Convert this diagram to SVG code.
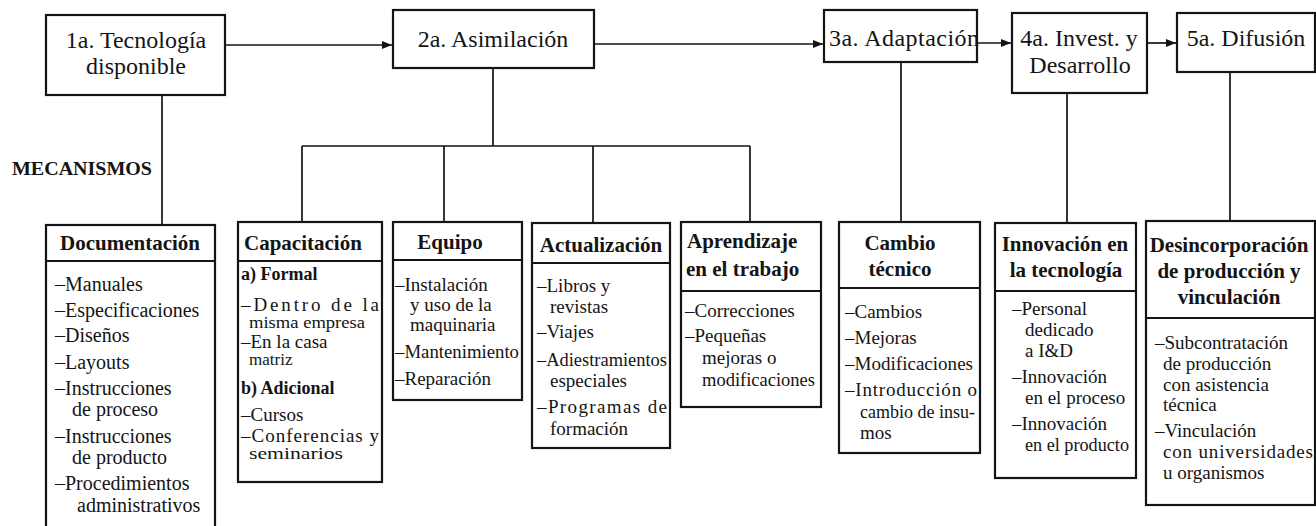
<svg xmlns="http://www.w3.org/2000/svg" width="1316" height="526" viewBox="0 0 1316 526">
<style>
.box{fill:#fff;stroke:#141414;stroke-width:2.2}
.ln{stroke:#141414;stroke-width:1.7;fill:none}
.hl{stroke:#141414;stroke-width:2}
text{font-family:"Liberation Serif","Times New Roman",serif;fill:#141414}
.top{font-size:24px;text-anchor:middle}
.h{font-size:21px;font-weight:bold}
.c{text-anchor:middle}
.i{font-size:19px}
.d{font-size:20px}
.s{font-size:17px}
.sb{font-size:18px;font-weight:bold}
</style>
<defs>
<marker id="ah" markerWidth="10" markerHeight="8" refX="10" refY="4" orient="auto" markerUnits="userSpaceOnUse">
<path d="M0,0 L10,4 L0,8 z" fill="#141414"/>
</marker>
</defs>
<rect width="1316" height="526" fill="#fff"/>

<g id="connectors">
<path class="ln" d="M226,45 H392" marker-end="url(#ah)"/>
<path class="ln" d="M595,44 H823" marker-end="url(#ah)"/>
<path class="ln" d="M978,43 H1011" marker-end="url(#ah)"/>
<path class="ln" d="M1148,43 H1176" marker-end="url(#ah)"/>
<path class="ln" d="M162,95 V225"/>
<path class="ln" d="M493,68 V146 M302,146 H750 M302,146 V222 M444,146 V222 M593,146 V223 M750,146 V221"/>
<path class="ln" d="M901,62 V222"/>
<path class="ln" d="M1067,93 V223"/>
<path class="ln" d="M1230,72 V221"/>
</g>

<g id="n1">
<rect class="box" x="46" y="15" width="179" height="80"/>
<text class="top" x="136" y="48">1a. Tecnología</text>
<text class="top" x="136" y="74">disponible</text>
</g>
<g id="n2">
<rect class="box" x="393" y="10" width="201" height="58"/>
<text class="top" x="493" y="47">2a. Asimilación</text>
</g>
<g id="n3">
<rect class="box" x="824" y="10" width="153" height="52"/>
<text class="top" x="829" y="46" style="text-anchor:start" textLength="150" lengthAdjust="spacing">3a. Adaptación</text>
</g>
<g id="n4">
<rect class="box" x="1012" y="13" width="135" height="80"/>
<text class="top" x="1079" y="46">4a. Invest. y</text>
<text class="top" x="1080" y="73">Desarrollo</text>
</g>
<g id="n5">
<rect class="box" x="1177" y="13" width="138" height="59"/>
<text class="top" x="1246" y="46">5a. Difusión</text>
</g>

<g id="mecanismos">
<text class="h" x="12" y="175" style="font-size:18px" textLength="140" lengthAdjust="spacingAndGlyphs">MECANISMOS</text>
</g>

<g id="documentacion">
<rect class="box" x="46" y="225" width="169" height="330"/>
<line class="hl" x1="46" y1="261" x2="215" y2="261"/>
<text class="h c" x="130" y="250">Documentación</text>
<text class="d" x="55" y="291">–Manuales</text>
<text class="d" x="55" y="317">–Especificaciones</text>
<text class="d" x="55" y="342">–Diseños</text>
<text class="d" x="55" y="369">–Layouts</text>
<text class="d" x="55" y="395">–Instrucciones</text>
<text class="d" x="72" y="416">de proceso</text>
<text class="d" x="55" y="443">–Instrucciones</text>
<text class="d" x="72" y="464">de producto</text>
<text class="d" x="55" y="490">–Procedimientos</text>
<text class="d" x="77" y="512">administrativos</text>
</g>

<g id="capacitacion">
<rect class="box" x="238" y="222" width="144" height="260"/>
<line class="hl" x1="238" y1="261" x2="382" y2="261"/>
<text class="h" x="244" y="250">Capacitación</text>
<text class="sb" x="241" y="280">a) Formal</text>
<text class="i" x="241" y="311" textLength="138" lengthAdjust="spacing">–Dentro de la</text>
<text class="s" x="249" y="328" textLength="116" lengthAdjust="spacingAndGlyphs">misma empresa</text>
<text class="i" x="241" y="348">–En la casa</text>
<text class="s" x="249" y="365">matriz</text>
<text class="sb" x="241" y="394">b) Adicional</text>
<text class="i" x="241" y="421">–Cursos</text>
<text class="i" x="241" y="442" textLength="138" lengthAdjust="spacing">–Conferencias y</text>
<text class="s" x="249" y="459" textLength="94" lengthAdjust="spacingAndGlyphs">seminarios</text>
</g>

<g id="equipo">
<rect class="box" x="393" y="222" width="129" height="178"/>
<line class="hl" x1="393" y1="260" x2="522" y2="260"/>
<text class="h c" x="450" y="249">Equipo</text>
<text class="i" x="395" y="291">–Instalación</text>
<text class="i" x="410" y="311">y uso de la</text>
<text class="i" x="410" y="331">maquinaria</text>
<text class="i" x="395" y="358" textLength="124" lengthAdjust="spacingAndGlyphs">–Mantenimiento</text>
<text class="i" x="395" y="385">–Reparación</text>
</g>

<g id="actualizacion">
<rect class="box" x="532" y="223" width="138" height="225"/>
<line class="hl" x1="532" y1="263" x2="670" y2="263"/>
<text class="h c" x="601" y="252">Actualización</text>
<text class="i" x="537" y="292">–Libros y</text>
<text class="i" x="550" y="313">revistas</text>
<text class="i" x="537" y="338">–Viajes</text>
<text class="i" x="537" y="366" textLength="130" lengthAdjust="spacingAndGlyphs">–Adiestramientos</text>
<text class="i" x="550" y="387">especiales</text>
<text class="i" x="537" y="413" textLength="130" lengthAdjust="spacing">–Programas de</text>
<text class="i" x="550" y="435">formación</text>
</g>

<g id="aprendizaje">
<rect class="box" x="681" y="222" width="140" height="185"/>
<line class="hl" x1="681" y1="291" x2="821" y2="291"/>
<text class="h" x="687" y="248">Aprendizaje</text>
<text class="h" x="686" y="276">en el trabajo</text>
<text class="i" x="685" y="317">–Correcciones</text>
<text class="i" x="685" y="342">–Pequeñas</text>
<text class="i" x="702" y="364">mejoras o</text>
<text class="i" x="702" y="386" textLength="113" lengthAdjust="spacingAndGlyphs">modificaciones</text>
</g>

<g id="cambio">
<rect class="box" x="839" y="222" width="141" height="231"/>
<line class="hl" x1="839" y1="288" x2="980" y2="288"/>
<text class="h c" x="900" y="250">Cambio</text>
<text class="h c" x="900" y="276">técnico</text>
<text class="i" x="845" y="318">–Cambios</text>
<text class="i" x="845" y="344">–Mejoras</text>
<text class="i" x="845" y="370" textLength="128" lengthAdjust="spacingAndGlyphs">–Modificaciones</text>
<text class="i" x="845" y="396" textLength="132" lengthAdjust="spacing">–Introducción o</text>
<text class="i" x="860" y="418" textLength="115" lengthAdjust="spacingAndGlyphs">cambio de insu-</text>
<text class="i" x="860" y="439">mos</text>
</g>

<g id="innovacion">
<rect class="box" x="995" y="223" width="141" height="255"/>
<line class="hl" x1="995" y1="291" x2="1136" y2="291"/>
<text class="h c" x="1065" y="251">Innovación en</text>
<text class="h c" x="1066" y="277">la tecnología</text>
<text class="i" x="1012" y="315">–Personal</text>
<text class="i" x="1025" y="336">dedicado</text>
<text class="i" x="1025" y="357">a I&amp;D</text>
<text class="i" x="1012" y="383">–Innovación</text>
<text class="i" x="1025" y="404">en el proceso</text>
<text class="i" x="1012" y="430">–Innovación</text>
<text class="i" x="1025" y="451" textLength="104" lengthAdjust="spacingAndGlyphs">en el producto</text>
</g>

<g id="desincorporacion">
<rect class="box" x="1146" y="221" width="169" height="284"/>
<line class="hl" x1="1146" y1="318" x2="1315" y2="318"/>
<text class="h c" x="1229" y="252">Desincorporación</text>
<text class="h c" x="1229" y="278">de producción y</text>
<text class="h c" x="1229" y="304">vinculación</text>
<text class="i" x="1155" y="349">–Subcontratación</text>
<text class="i" x="1163" y="370">de producción</text>
<text class="i" x="1163" y="391">con asistencia</text>
<text class="i" x="1163" y="411">técnica</text>
<text class="i" x="1155" y="437">–Vinculación</text>
<text class="i" x="1163" y="458" textLength="150" lengthAdjust="spacing">con  universidades</text>
<text class="i" x="1163" y="479">u organismos</text>
</g>
</svg>
